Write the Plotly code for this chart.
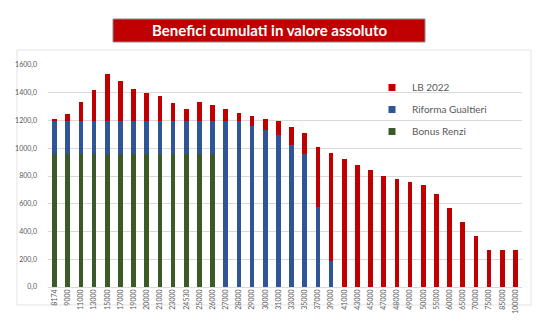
import plotly.graph_objects as go

categories = ["8174", "9000", "11000", "13000", "15000", "17000", "19000", "20000", "21000",
              "23000", "24530", "25000", "26000", "27000", "28000", "29000", "30000", "31000",
              "33000", "35000", "37000", "39000", "41000", "43000", "45000", "47000", "48000",
              "49000", "50000", "55000", "60000", "65000", "70000", "75000", "85000", "100000"]

bonus_renzi = [960] * 13 + [0] * 23

riforma_gualtieri = [240] * 13 + [1200, 1195, 1163, 1129, 1095, 1023, 959, 574, 190] + [0] * 14

lb_2022 = [5, 45, 136, 222, 333, 282, 227, 201, 177, 124, 83, 136, 109,
           83, 61, 72, 84, 99, 128, 153, 433, 773,
           920, 879, 841, 800, 778, 757, 737, 668, 567, 468, 368, 269, 269, 269]

y_ticks = [0, 200, 400, 600, 800, 1000, 1200, 1400, 1600]

W, H = 536, 326
ML, MR, MT, MB = 48, 14, 65, 39
PW, PH = W - ML - MR, H - MT - MB

def px(x):
    return (x - ML) / PW

def py(y):
    return (H - MB - y) / PH

RED = "#c00000"
BLUE = "#2f5597"
GREEN = "#3b5a27"
TXT = "#595959"

fig = go.Figure()
series = [("Bonus Renzi", bonus_renzi, GREEN),
          ("Riforma Gualtieri", riforma_gualtieri, BLUE),
          ("LB 2022", lb_2022, RED)]
for name, vals, col in series:
    fig.add_trace(go.Bar(x=categories, y=vals, name=name, marker_color=col,
                         marker_line_width=0, showlegend=False))
for name, vals, col in reversed(series):
    fig.add_trace(go.Scatter(x=[None], y=[None], mode="markers", name=name,
                             legendgroup=name,
                             marker=dict(symbol="square", size=7, color=col)))

fig.update_layout(
    width=W, height=H,
    margin=dict(l=ML, r=MR, t=MT, b=MB, pad=0),
    paper_bgcolor="white", plot_bgcolor="white",
    barmode="stack", bargap=0.64,
    separators=",.",
    font=dict(family="Lato, Open Sans, sans-serif", color=TXT),
    legend=dict(x=px(372), y=py(73), xanchor="left", yanchor="top",
                traceorder="grouped", tracegroupgap=3,
                font=dict(size=10, color=TXT), bgcolor="rgba(0,0,0,0)",
                itemwidth=30),
    xaxis=dict(type="category", tickangle=-90, tickfont=dict(size=7, color=TXT),
               showgrid=False, showline=False, ticks=""),
    yaxis=dict(range=[0, 1600], tickvals=y_ticks, tickformat=".1f",
               tickfont=dict(size=7, color=TXT), gridcolor="#d9d9d9", gridwidth=1,
               zeroline=True, zerolinecolor="#d9d9d9", zerolinewidth=1,
               showline=False, ticks="", ticklabelstandoff=10),
    shapes=[
        dict(type="rect", xref="paper", yref="paper", x0=px(17), x1=px(531),
             y0=py(305), y1=py(50), line=dict(color="#e3e3e3", width=1),
             fillcolor="rgba(0,0,0,0)", layer="below"),
        dict(type="rect", xref="paper", yref="paper", x0=px(113), x1=px(425),
             y0=py(42), y1=py(19), line=dict(color="#8a8a8a", width=1),
             fillcolor=RED),
    ],
    annotations=[
        dict(text="<b>Benefici cumulati in valore assoluto</b>", xref="paper", yref="paper",
             x=px(269), y=py(30.5), xanchor="center", yanchor="middle", showarrow=False,
             font=dict(family="Lato, sans-serif", size=15, color="white")),
    ],
)

fig.write_html("out.html")
